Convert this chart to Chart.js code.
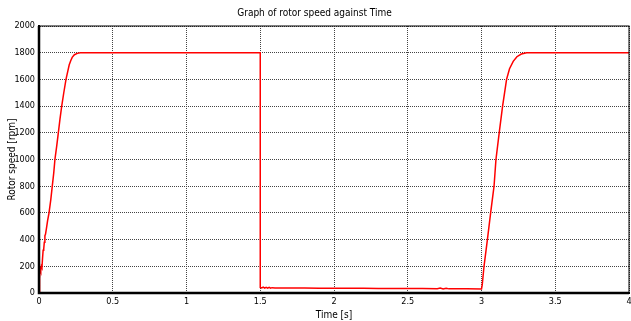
<!DOCTYPE html>
<html>
<head>
<meta charset="utf-8">
<script src="https://cdn.jsdelivr.net/npm/chart.js@4"></script>
<style>
  html, body { margin: 0; padding: 0; background: #fff; }
  #wrap { width: 631px; height: 321px; }
</style>
</head>
<body>
<div id="wrap"><canvas id="speedChart"></canvas></div>
<script>
// rotor speed trace: time [s] and speed [rpm]
const timeS = [
  0, 0.004, 0.008, 0.012, 0.016, 0.02, 0.024, 0.028, 0.032, 0.036, 0.04, 0.044,
  0.05, 0.058, 0.068, 0.08, 0.09, 0.1, 0.108, 0.12, 0.131, 0.142, 0.154, 0.168,
  0.183, 0.195, 0.205, 0.215, 0.225, 0.24, 0.26, 0.28, 0.3, 0.33, 0.36,
  1.5, 1.5, 1.51, 1.52, 1.53, 1.54, 1.55, 1.56, 1.57, 1.58, 1.6, 1.7, 1.8, 1.9,
  2.0, 2.1, 2.2, 2.3, 2.4, 2.5, 2.6, 2.7, 2.72, 2.74, 2.76, 2.78, 2.8, 2.9, 3.0,
  3.005, 3.017, 3.04, 3.062, 3.085, 3.098, 3.12, 3.143, 3.17, 3.19, 3.215,
  3.24, 3.27, 3.306, 3.35, 4.0
];
const speedRpm = [
  0, 110, 180, 165, 200, 190, 260, 320, 330, 380, 430, 440,
  480, 540, 600, 700, 800, 900, 1000, 1100, 1200, 1300, 1400, 1500,
  1600, 1660, 1710, 1740, 1765, 1785, 1795, 1799, 1800, 1800, 1800,
  1800, 42, 38, 44, 36, 42, 37, 43, 36, 40, 38, 37, 37, 36,
  36, 35, 35, 34, 34, 33, 33, 32, 37, 30, 36, 31, 32, 31, 30,
  60, 200, 400, 600, 800, 1000, 1200, 1400, 1600, 1680, 1735,
  1770, 1790, 1800, 1800, 1800
];

const xTicks = [0, 0.5, 1, 1.5, 2, 2.5, 3, 3.5, 4];
const yTicks = [0, 200, 400, 600, 800, 1000, 1200, 1400, 1600, 1800, 2000];

const points = timeS.map((t, i) => ({ x: t, y: speedRpm[i] }));

// solid frame round the plot area
const frame = {
  id: 'frame',
  afterDraw(chart) {
    const { ctx, chartArea: a } = chart;
    ctx.save();
    ctx.strokeStyle = '#000';
    ctx.setLineDash([]);
    ctx.lineWidth = 1;
    ctx.strokeRect(a.left, a.top, a.right - a.left, a.bottom - a.top);
    ctx.lineWidth = 2.5;
    ctx.beginPath();
    ctx.moveTo(a.left, a.top);
    ctx.lineTo(a.left, a.bottom);
    ctx.lineTo(a.right, a.bottom);
    ctx.stroke();
    ctx.restore();
  }
};

const narrow = "'Liberation Sans Narrow', 'DejaVu Sans Condensed', sans-serif";
const tickFont = { family: narrow, size: 9 };
const plain = v => String(v);

new Chart(document.getElementById('speedChart'), {
  type: 'line',
  data: {
    datasets: [{
      data: points,
      borderColor: '#ff0000',
      borderWidth: 1.5,
      pointRadius: 0,
      tension: 0,
      fill: false
    }]
  },
  options: {
    responsive: true,
    maintainAspectRatio: false,
    animation: false,
    layout: { padding: { left: 0, right: 2, top: 0, bottom: 0 } },
    plugins: {
      legend: { display: false },
      tooltip: { enabled: false },
      title: {
        display: true,
        text: 'Graph of rotor speed against Time',
        color: '#000',
        font: { family: narrow, size: 10, weight: 'normal', lineHeight: 1.2 },
        padding: { top: 7, bottom: 7 }
      }
    },
    scales: {
      x: {
        type: 'linear',
        min: 0,
        max: 4,
        afterBuildTicks: s => { s.ticks = xTicks.map(v => ({ value: v })); },
        afterFit: s => { s.height = 28; s.paddingLeft = 0; s.paddingRight = 0; },
        ticks: { color: '#000', font: tickFont, padding: 3, maxRotation: 0, callback: plain },
        grid: { color: '#444', drawTicks: false },
        border: { display: true, color: '#000', width: 2, dash: [1, 1] },
        title: {
          display: true,
          text: 'Time [s]',
          color: '#000',
          font: { family: narrow, size: 10 },
          padding: { top: 0, bottom: 0 }
        }
      },
      y: {
        min: 0,
        max: 2000,
        afterBuildTicks: s => { s.ticks = yTicks.map(v => ({ value: v })); },
        afterFit: s => { s.width = 39; },
        ticks: { color: '#000', font: tickFont, padding: 4, callback: plain },
        grid: { color: '#444', drawTicks: false },
        border: { display: true, color: '#000', width: 2, dash: [1, 1] },
        title: {
          display: true,
          text: 'Rotor speed [rpm]',
          color: '#000',
          font: { family: narrow, size: 10 },
          padding: { top: 6, bottom: 2 }
        }
      }
    }
  },
  plugins: [frame]
});
</script>
</body>
</html>
